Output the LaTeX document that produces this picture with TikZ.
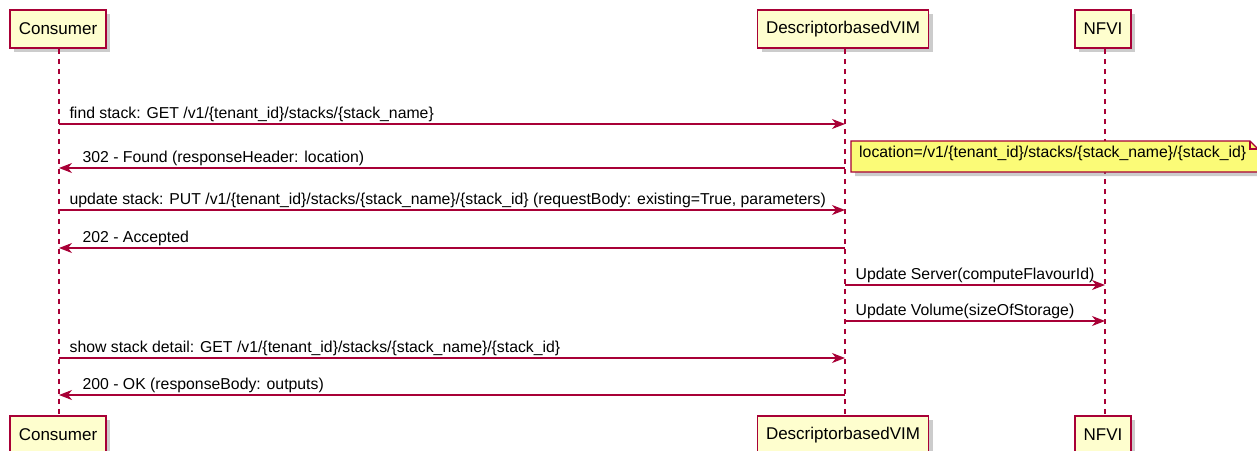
\documentclass[tikz,border=0pt]{standalone}
\usepackage{fontspec}
\setmainfont{Liberation Sans}
\usetikzlibrary{arrows.meta,
                shadows}

\definecolor{umlred}{HTML}{A80036}
\definecolor{umlbox}{HTML}{FEFECE}
\definecolor{umlnote}{HTML}{FBFB77}

\begin{document}
\begin{tikzpicture}[x=1pt, y=-1pt,
    actor/.style={draw=umlred, line width=1.6pt, fill=umlbox, minimum height=38pt, inner xsep=8.5pt,
                  font=\fontsize{17}{20}\selectfont,
                  drop shadow={shadow xshift=4pt, shadow yshift=-4pt, opacity=0.4}},
    lifeline/.style={umlred, line width=1.1pt, dash pattern=on 5pt off 5pt},
    msg/.style={umlred, line width=1.2pt, -{Stealth[length=13pt, width=10pt, inset=4pt]}},
    msgtext/.style={text=black, inner sep=0pt, anchor=base west, yshift=6pt,
                    font=\fontsize{15.8}{18}\selectfont}]
    \useasboundingbox (0,0) rectangle (1257,450);

    % participants, top and bottom
    \node[actor] (consumer) at (58,29) {Consumer};
    \node[actor] (vim) at (843,29) {DescriptorbasedVIM};
    \node[actor] (nfvi) at (1103,29) {NFVI};
    \node[actor] (consumerB) at (58,435) {Consumer};
    \node[actor] (vimB) at (843,435) {DescriptorbasedVIM};
    \node[actor] (nfviB) at (1103,435) {NFVI};

    \draw[lifeline] (consumer.south -| 59,0) -- (consumerB.north -| 59,0);
    \draw[lifeline] (vim.south -| 845,0) -- (vimB.north -| 845,0);
    \draw[lifeline] (nfvi.south -| 1105,0) -- (nfviB.north -| 1105,0);

    % message points on the lifelines
    \foreach \n/\y in {1/124, 2/168, 3/210, 4/248, 5/285, 6/321, 7/358, 8/395} {
        \coordinate (c\n) at (59,\y);
        \coordinate (v\n) at (845,\y);
        \coordinate (f\n) at (1105,\y);
    }

    \draw[msg] (c1) -- (v1) node[msgtext, pos=0, xshift=10pt] (m1) {find stack: GET /v1/\{tenant\_id\}/stacks/\{stack\_name\}};
    \draw[msg] (v2) -- (c2) node[msgtext, pos=1, xshift=23pt] (m2) {302 - Found (responseHeader: location)};
    \draw[msg] (c3) -- (v3) node[msgtext, pos=0, xshift=10pt] (m3) {update stack: PUT /v1/\{tenant\_id\}/stacks/\{stack\_name\}/\{stack\_id\} (requestBody: existing=True, parameters)};
    \draw[msg] (v4) -- (c4) node[msgtext, pos=1, xshift=23pt] (m4) {202 - Accepted};
    \draw[msg] (v5) -- (f5) node[msgtext, pos=0, xshift=10pt] (m5) {Update Server(computeFlavourId)};
    \draw[msg] (v6) -- (f6) node[msgtext, pos=0, xshift=10pt] (m6) {Update Volume(sizeOfStorage)};
    \draw[msg] (c7) -- (v7) node[msgtext, pos=0, xshift=10pt] (m7) {show stack detail: GET /v1/\{tenant\_id\}/stacks/\{stack\_name\}/\{stack\_id\}};
    \draw[msg] (v8) -- (c8) node[msgtext, pos=1, xshift=23pt] (m8) {200 - OK (responseBody: outputs)};

    % note next to the 302 answer
    \draw[umlred, line width=1.1pt, fill=umlnote, drop shadow={shadow xshift=4pt, shadow yshift=-4pt, opacity=0.4}]
        (851,141) -- (1250,141) -- (1258,149) -- (1258,172) -- (851,172) -- cycle;
    \draw[umlred, line width=1.1pt] (1250,141) -- (1250,149) -- (1258,149);
    \node[msgtext, yshift=0pt] (location) at (859,163) {location=/v1/\{tenant\_id\}/stacks/\{stack\_name\}/\{stack\_id\}};
\end{tikzpicture}
\end{document}
